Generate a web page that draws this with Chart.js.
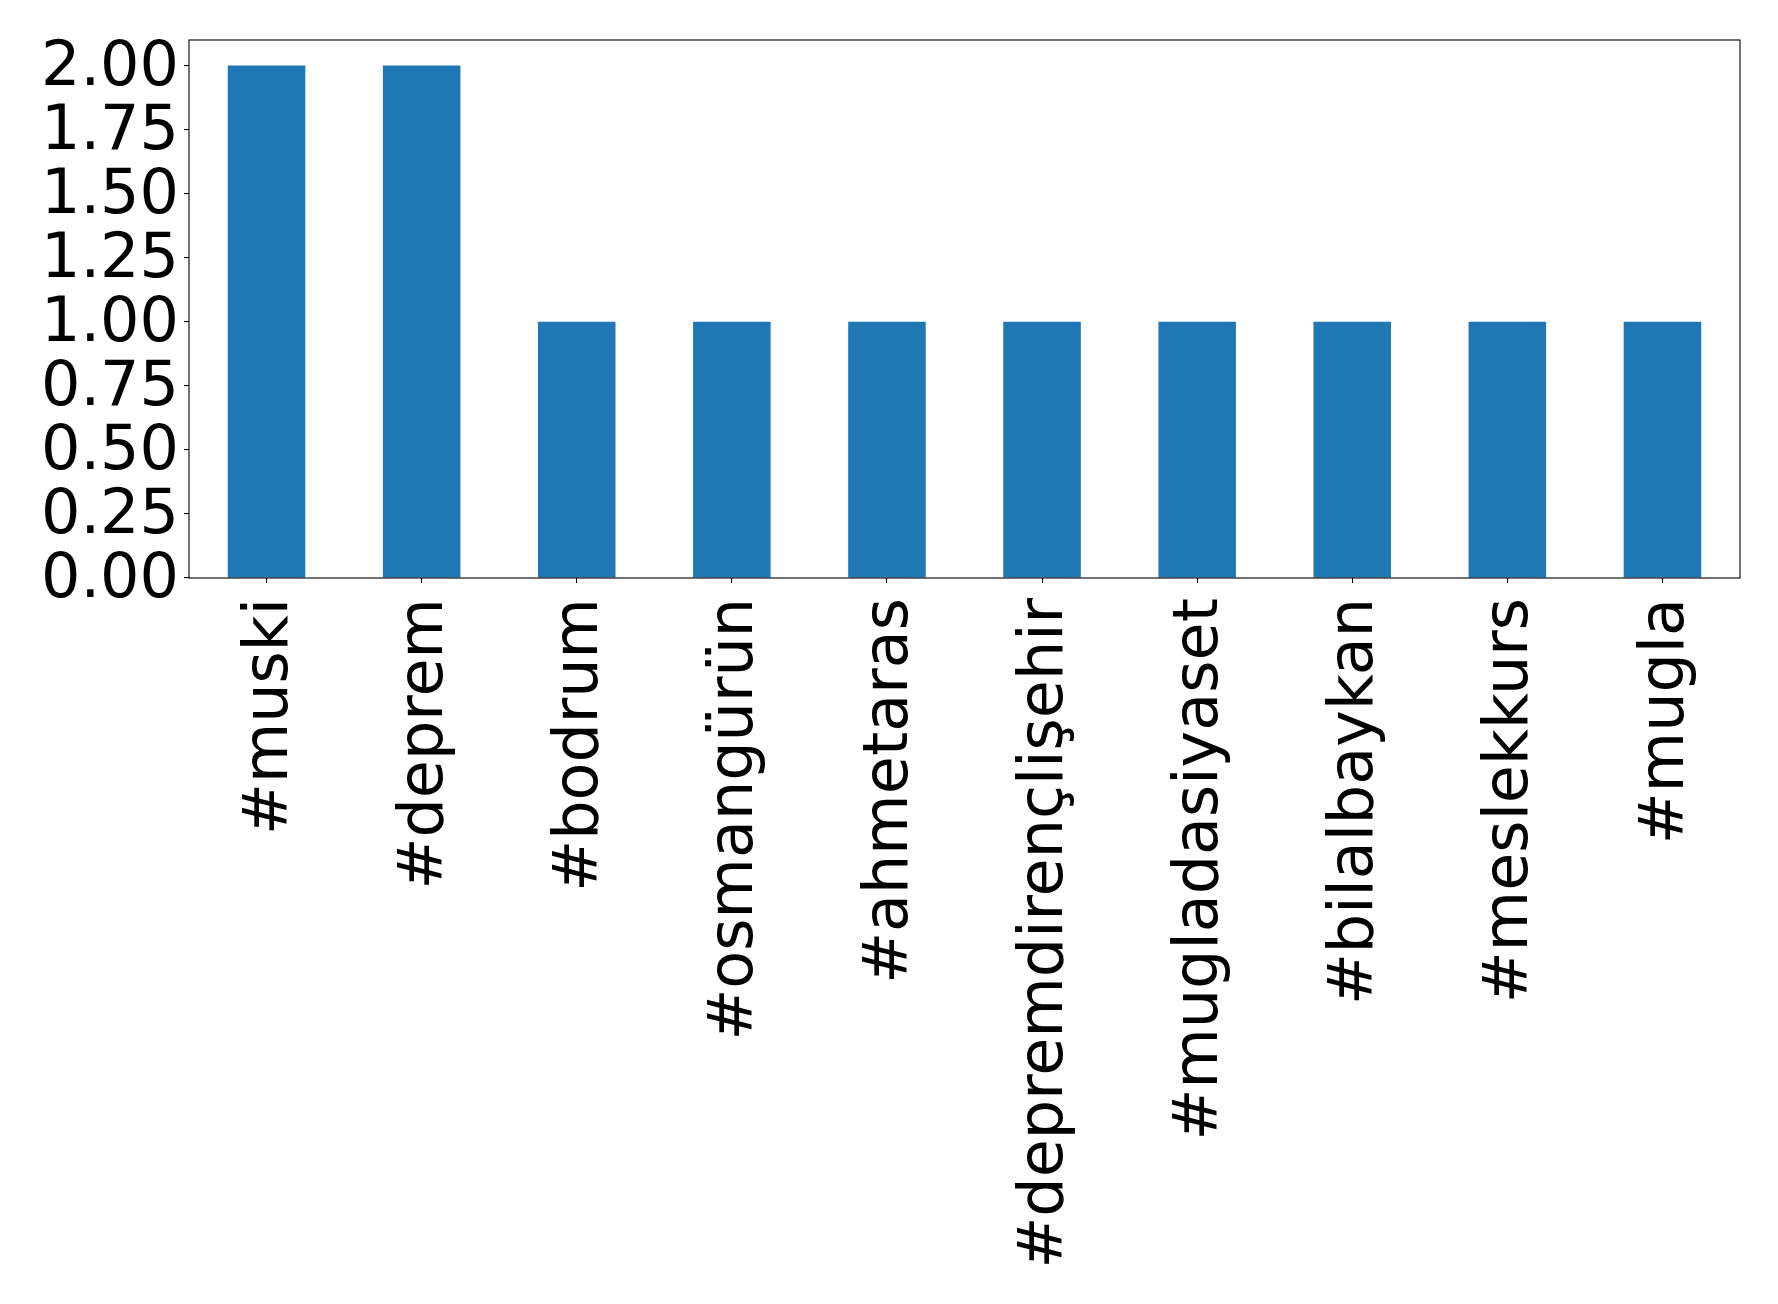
<!DOCTYPE html>
<html>
<head>
<meta charset="utf-8">
<script src="https://cdn.jsdelivr.net/npm/chart.js@4/dist/chart.umd.min.js"></script>
<style>
  body { margin: 0; background: #fff; }
  #wrap { width: 1778px; height: 1304px; }
</style>
</head>
<body>
<div id="wrap"><canvas id="tag-chart" width="1778" height="1304"></canvas></div>
<script>
// Hashtag counts
const tags = ['#muski', '#deprem', '#bodrum', '#osmangürün', '#ahmetaras',
  '#depremdirençlişehir', '#mugladasiyaset', '#bilalbaykan', '#meslekkurs', '#mugla'];
const counts = [2, 2, 1, 1, 1, 1, 1, 1, 1, 1];
const yMax = 2.1;
const yStep = 0.25;

const font = { family: 'DejaVu Sans', size: 62 };

// matplotlib-style frame round the plot area
const frame = {
  id: 'frame',
  afterDraw(chart) {
    const { ctx, chartArea: a } = chart;
    ctx.save();
    ctx.strokeStyle = '#000';
    ctx.lineWidth = 1.1;
    ctx.strokeRect(a.left, a.top, a.right - a.left, a.bottom - a.top);
    ctx.restore();
  }
};

const ctx = document.getElementById('tag-chart').getContext('2d');
const chart = new Chart(ctx, {
  type: 'bar',
  data: {
    labels: tags,
    datasets: [{
      data: counts,
      backgroundColor: '#1f77b4',
      borderWidth: 0,
      categoryPercentage: 1,
      barPercentage: 0.5
    }]
  },
  options: {
    responsive: false,
    animation: false,
    layout: { padding: { top: 40, right: 38, left: 0, bottom: 0 } },
    plugins: { legend: { display: false }, tooltip: { enabled: false } },
    scales: {
      x: {
        grid: { display: true, drawOnChartArea: false, offset: false, tickLength: 5, color: '#000', lineWidth: 1.1 },
        border: { display: false },
        ticks: { color: '#000', font: font, minRotation: 90, maxRotation: 90, autoSkip: false, padding: 15, labelOffset: 4 },
        afterFit(scale) { scale.height = 726; scale.paddingLeft = 0; scale.paddingRight = 0; }
      },
      y: {
        min: 0,
        max: yMax,
        grid: { display: true, drawOnChartArea: false, tickLength: 5, color: '#000', lineWidth: 1.1 },
        border: { display: false },
        ticks: {
          color: '#000', font: font, stepSize: yStep, includeBounds: false, padding: 5, autoSkip: false,
          labelOffset: 3,
          callback: v => v.toFixed(2)
        },
        afterFit(scale) { scale.width = 189; scale.paddingTop = 0; scale.paddingBottom = 0; }
      }
    }
  },
  plugins: [frame]
});
</script>
</body>
</html>
